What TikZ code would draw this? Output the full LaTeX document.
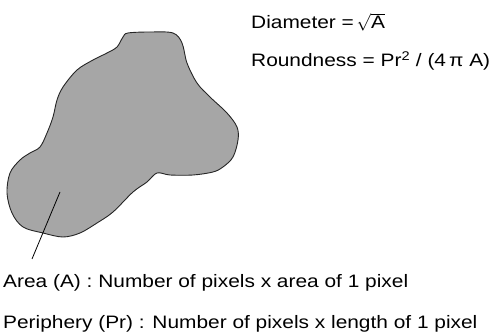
\documentclass[tikz,border=0pt]{standalone}
\usepackage{fontspec}
\setmainfont[FakeStretch=1.16]{Liberation Sans}
\begin{document}
\begin{tikzpicture}[x=1pt,y=-1pt,
  lbl/.style={anchor=base west,inner sep=0pt,font=\fontsize{18}{20}\selectfont},
  blob/.style={draw=black!85,line width=0.9pt,fill=black!35}]
\useasboundingbox (0,0) rectangle (491,334);
\path[blob] plot[smooth cycle,tension=0.55] coordinates {
 (128,33) (150,32) (173,33) (182,43) (187,63) (197,83) (210,97) (227,113)
 (237,127) (238,140) (233,157) (223,167) (213,172) (193,175) (170,175)
 (157,173) (147,182) (133,192) (113,212) (97,223) (80,233) (63,237)
 (43,233) (23,227) (12,213) (7,193) (10,173) (20,160) (30,153) (40,147)
 (47,133) (53,117) (57,100) (63,87) (77,70) (93,60) (107,53) (117,47) (123,37)};
\coordinate (inside) at (60,192);
\coordinate (tail) at (32,259);
\draw[line width=0.8pt] (inside) -- (tail);
\node[lbl] (diam) at (251,29) {Diameter = \hspace{-3pt}$\sqrt{\mbox{A}}$};
\node[lbl] (round) at (251,67) {Roundness = Pr\textsuperscript{2} / (4\,π A)};
\node[lbl] (area) at (3,288) {Area (A) : Number of pixels x area of 1 pixel};
\node[lbl] (peri) at (3,329) {Periphery (Pr) : Number of pixels x length of 1 pixel};
\end{tikzpicture}
\end{document}
